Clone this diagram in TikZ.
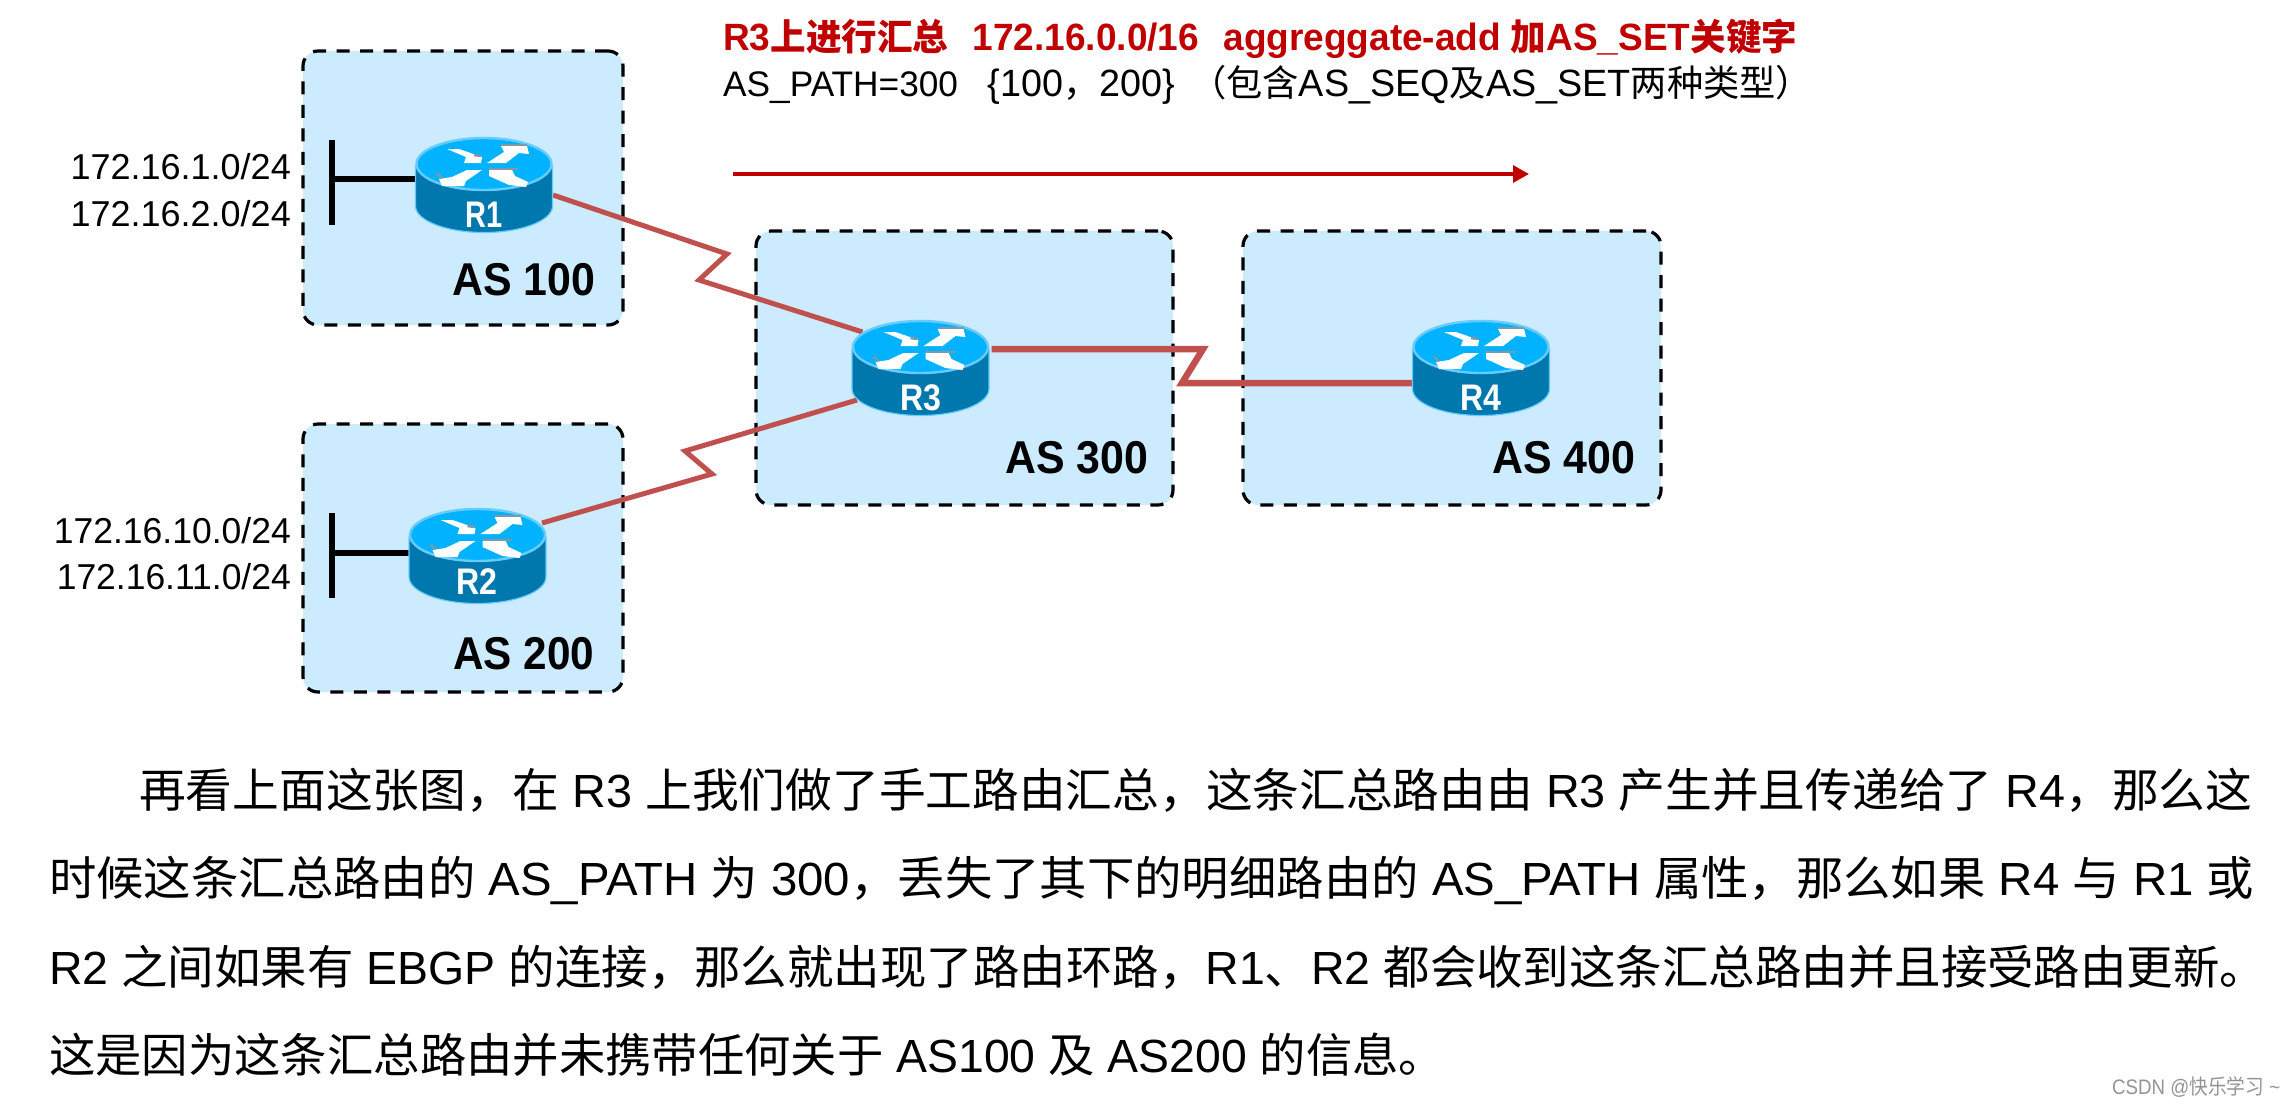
\documentclass[tikz,border=0pt]{standalone}
\usepackage{fontspec}
\usepackage{graphicx}
\usetikzlibrary{arrows.meta}
\setmainfont{Liberation Sans}
\newfontfamily\zhf{Noto Sans CJK SC}
\newcommand{\Z}[1]{{\zhf #1}}
\newsavebox{\fitbox}
\newcommand{\fitw}[2]{\sbox{\fitbox}{#2}\pgfmathsetmacro{\fitr}{#1pt/\wd\fitbox}\scalebox{\fitr}[1]{\usebox{\fitbox}}}
\definecolor{asfill}{HTML}{CCEBFF}
\definecolor{linkred}{HTML}{C0504D}
\definecolor{topred}{HTML}{C00000}
\definecolor{rtop}{HTML}{00B2FF}
\definecolor{rside}{HTML}{0078AD}
\definecolor{rrim}{HTML}{66CCFF}
\definecolor{rgray}{HTML}{7F98A6}
\tikzset{
  asbox/.style={draw=black,fill=asfill,line width=3.2pt,dash pattern=on 13pt off 10.5pt,rounded corners=15pt,inner sep=0pt,outer sep=0pt,minimum width=#1},
  aslabel/.style={anchor=base west,inner sep=0pt,font=\fontsize{46}{50}\selectfont\bfseries},
  netlabel/.style={anchor=base east,inner sep=0pt,font=\fontsize{36}{40}\selectfont},
  rlabel/.style={anchor=base,inner sep=0pt,text=white,font=\fontsize{37}{40}\selectfont\bfseries},
  body/.style={anchor=base west,inner sep=0pt,font=\fontsize{46.5}{50}\selectfont},
  toptext/.style={anchor=base west,inner sep=0pt,font=\fontsize{38}{42}\selectfont},
  link/.style={draw=linkred,line width=#1,line join=miter},
  stub/.style={draw=black,line width=6.5pt},
  rt/.pic={
    \path[fill=rside,draw=rrim,line width=1.2pt] (-68.5,2) -- (-68.5,42) arc[start angle=180,end angle=0,x radius=68.5,y radius=26.5] -- (68.5,2) -- cycle;
    \path[fill=rtop,draw=rrim,line width=2.4pt] (0,0) ellipse[x radius=67.5,y radius=26];
    \fill[white] (-37,-15) -- (-25,-15) -- (-2,-7) -- (-3,-1) -- (-20,-1) -- (-18,-7) -- cycle;
    \fill[white] (43,-18) -- (45,-10) -- (35,-11) -- (22,-1) -- (3,-1) -- (20,-12) -- (17,-18) -- cycle;
    \fill[white] (-45,15) -- (-32,13) -- (-17,6) -- (-2,6) -- (-18,17) -- (-20,22) -- (-42,22) -- cycle;
    \fill[white] (5,6) -- (28,6) -- (31,12) -- (44,18) -- (42,23) -- (25,21) -- (5,12) -- cycle;
    \draw[rgray,line width=2.5pt] (17,-19) -- (43,-19);
    \draw[rgray,line width=2.5pt] (5,5) -- (34,5);
    \draw[rgray,line width=2.5pt] (-3,-8) -- (-10,-9);
    \draw[rgray,line width=2.5pt] (-47,10) -- (-42,14);
  }
}
\begin{document}
\begin{tikzpicture}[x=1pt,y=-1pt]
\useasboundingbox (0,0) rectangle (2294,1104);
\fill[white] (0,0) rectangle (2294,1104);

% AS regions
\node[asbox=320pt,minimum height=274pt] (as100) at (463,188) {};
\node[asbox=320pt,minimum height=268pt] (as200) at (463,558) {};
\node[asbox=417pt,minimum height=274pt] (as300) at (964.5,368) {};
\node[asbox=418pt,minimum height=274pt] (as400) at (1452,368) {};

% router anchors
\node[coordinate] (R1) at (484,164) {};
\node[coordinate] (R2) at (477.5,535) {};
\node[coordinate] (R3) at (920.5,347) {};
\node[coordinate] (R4) at (1481,347) {};

% serial links
\coordinate (a1) at (727,254);
\coordinate (a2) at (699,280);
\coordinate (b1) at (712,474);
\coordinate (b2) at (685,451);
\coordinate (c1) at (1203,349);
\coordinate (c2) at (1182,383);
\draw[link=5pt] ([shift={(69,31)}]R1.center) -- (a1) -- (a2) -- ([shift={(-58,-15)}]R3.center);
\draw[link=5pt] ([shift={(64.5,-12)}]R2.center) -- (b1) -- (b2) -- ([shift={(-63.5,53)}]R3.center);
\draw[link=6.5pt] ([shift={(71,2)}]R3.center) -- (c1) -- (c2) -- ([shift={(-69,36)}]R4.center);

% LAN stubs
\coordinate (s1t) at (332,140);
\coordinate (s1b) at (332,225);
\coordinate (s1m) at (332,179);
\coordinate (s2t) at (332,513);
\coordinate (s2b) at (332,598);
\coordinate (s2m) at (332,553);
\draw[stub] (s1t) -- (s1b);
\draw[stub] (s1m) -- ([shift={(-69,15)}]R1.center);
\draw[stub] (s2t) -- (s2b);
\draw[stub] (s2m) -- ([shift={(-69,18)}]R2.center);

% routers
\pic at (R1) {rt};
\pic at (R2) {rt};
\pic at (R3) {rt};
\pic at (R4) {rt};
\node[rlabel] (lR1) at (484,227) {\fitw{37}{R1}};
\node[rlabel] (lR2) at (477,594) {\fitw{41}{R2}};
\node[rlabel] (lR3) at (921,410) {\fitw{41}{R3}};
\node[rlabel] (lR4) at (1481,410) {\fitw{41}{R4}};

% AS labels
\node[aslabel] (t100) at (452,295) {\fitw{143}{AS 100}};
\node[aslabel] (t200) at (453,669) {\fitw{141}{AS 200}};
\node[aslabel] (t300) at (1005,473) {\fitw{143}{AS 300}};
\node[aslabel] (t400) at (1492,473) {\fitw{143}{AS 400}};

% networks
\node[netlabel] (n1) at (291,179) {172.16.1.0/24};
\node[netlabel] (n2) at (291,226) {172.16.2.0/24};
\node[netlabel] (n3) at (291,543) {\fitw{237}{172.16.10.0/24}};
\node[netlabel] (n4) at (291,589) {\fitw{234}{172.16.11.0/24}};

% top caption and arrow
\node[toptext,text=topred,font=\fontsize{38}{42}\selectfont\bfseries] (cap1) at (723,50) {\fitw{1074}{R3{\fontsize{36.5}{42}\selectfont\Z{上进行汇总}}\hspace{25pt}172.16.0.0/16\hspace{25pt}aggreggate-add\hspace{10pt}{\fontsize{36.5}{42}\selectfont\Z{加}}AS\_SET{\fontsize{36.5}{42}\selectfont\Z{关键字}}}};
\node[toptext] (cap2) at (723,96) {\fitw{1089}{{\fontsize{35.5}{42}\selectfont AS\_PATH=300}\hspace{30pt}\{100{\fontsize{36.5}{42}\selectfont\Z{，}}200\}\hspace{15pt}{\fontsize{36.5}{42}\selectfont\Z{（包含}}AS\_SEQ{\fontsize{36.5}{42}\selectfont\Z{及}}AS\_SET{\fontsize{36.5}{42}\selectfont\Z{两种类型）}}}};
\coordinate (ar1) at (733,174);
\coordinate (ar2) at (1529,174);
\draw[topred,line width=3.4pt,-{Triangle[length=16pt,width=17pt]}] (ar1) -- (ar2);

% body text
\node[body] (l1) at (139,807) {\fitw{2113}{\Z{再看上面这张图，在} R3 \Z{上我们做了手工路由汇总，这条汇总路由由} R3 \Z{产生并且传递给了} R4\Z{，那么这}}};
\node[body] (l2) at (49,895) {\fitw{2205}{\Z{时候这条汇总路由的} AS\_PATH \Z{为} 300\Z{，丢失了其下的明细路由的} AS\_PATH \Z{属性，那么如果} R4 \Z{与} R1 \Z{或}}};
\node[body] (l3) at (49,984) {\fitw{2217}{R2 \Z{之间如果有} EBGP \Z{的连接，那么就出现了路由环路，}R1\Z{、}R2 \Z{都会收到这条汇总路由并且接受路由更新。}}};
\node[body] (l4) at (49,1072) {\fitw{1396}{\Z{这是因为这条汇总路由并未携带任何关于} AS100 \Z{及} AS200 \Z{的信息。}}};

% watermark
\node[anchor=base west,inner sep=0pt,text=black!42,font=\fontsize{21}{24}\selectfont] (wm) at (2112,1094) {\fitw{168}{CSDN @\Z{快乐学习} \textasciitilde}};
\end{tikzpicture}
\end{document}
